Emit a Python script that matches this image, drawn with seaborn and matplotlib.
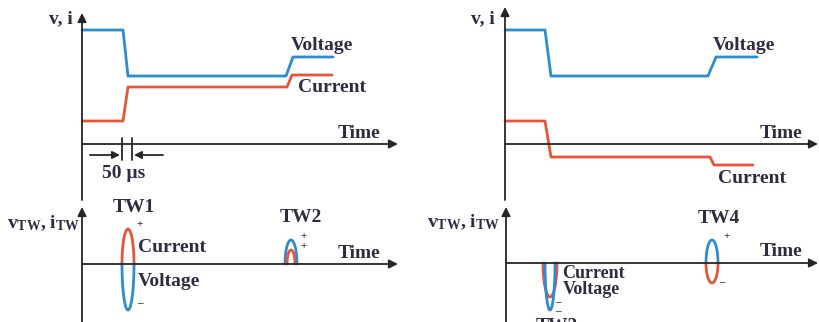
import numpy as np
import pandas as pd
import matplotlib
matplotlib.use("Agg")
import matplotlib.pyplot as plt
import seaborn as sns

sns.set_style("white")
plt.rcParams["font.family"] = ["Liberation Serif", "DejaVu Serif"]
plt.rcParams["font.weight"] = "bold"
plt.rcParams["mathtext.fontset"] = "custom"
plt.rcParams["mathtext.rm"] = "Liberation Serif:bold"
plt.rcParams["mathtext.it"] = "Liberation Serif:italic:bold"

W, H = 820, 322
BLUE = "#2b8dd0"
RED = "#e6553a"
INK = "#2f2c42"
AXIS = "#262626"

# ---- phase quantities (time, level) in arbitrary units ----
# internal fault: voltage dips, current rises
t_v_int = [0, 41, 46, 204, 211, 251]
v_int = [114, 114, 68, 68, 87, 87]
t_i_int = [1, 41, 46, 205, 210, 250]
i_int = [23, 23, 57, 57, 69, 69]

# external fault: voltage dips, current reverses
t_v_ext = [0, 40, 46, 203, 211, 252]
v_ext = [114, 114, 68, 68, 87, 87]
t_i_ext = [0, 40, 46, 205, 209, 248]
i_ext = [23, 23, -13, -13, -21, -21]

# ---- travelling-wave pulses: name, time, half-width, current peak, voltage peak ----
tw_names = ["TW1", "TW2", "TW3", "TW4"]
tw_time = [46, 209, 44, 206]
tw_width_i = [6, 4, 7, 6]
tw_width_v = [6, 6, 5, 6]
tw_peak_i = [35, 14, -34, -20]
tw_peak_v = [-46, 24, -47, 23]


def panel(x0, y0, x1, y1, ox, oy):
    ax = fig.add_axes([x0 / W, 1 - y1 / H, (x1 - x0) / W, (y1 - y0) / H])
    ax.set_xlim(x0 - ox, x1 - ox)
    ax.set_ylim(oy - y1, oy - y0)
    ax.axis("off")
    return ax


def axes_arrows(ax, x_tip, y_tip, y_bottom):
    arrow = dict(arrowstyle="-|>", color=AXIS, lw=1.3, mutation_scale=13,
                 shrinkA=0, shrinkB=0)
    ax.annotate("", xy=(x_tip, 0), xytext=(0, 0), arrowprops=arrow,
                annotation_clip=False)
    ax.annotate("", xy=(0, y_tip), xytext=(0, y_bottom), arrowprops=arrow,
                annotation_clip=False)


def wave(ax, t, y, color):
    df = pd.DataFrame({"t": t, "y": y})
    sns.lineplot(data=df, x="t", y="y", sort=False, estimator=None,
                 color=color, lw=2.0, ax=ax, clip_on=False)


def pulse(ax, t0, hw, peak, color):
    # half-period lobe from t0-hw to t0+hw reaching the given peak
    th = np.linspace(0, np.pi, 60)
    ax.plot(t0 - hw * np.cos(th), peak * np.sin(th), color=color, lw=2.0,
            clip_on=False, solid_capstyle="round")


def txt(ax, x, y, s, size=14, ha="left", va="center"):
    ax.text(x, y, s, fontsize=size, color=INK, ha=ha, va=va, clip_on=False,
            fontweight="bold")


fig = plt.figure(figsize=(W / 100, H / 100), dpi=100)
fig.patch.set_facecolor("white")

# ---------- top left: internal fault ----------
ax = panel(0, 0, 410, 203, 82, 144)
axes_arrows(ax, 316, 131, -56)
wave(ax, t_v_int, v_int, BLUE)
wave(ax, t_i_int, i_int, RED)
txt(ax, 209, 98, "Voltage")
txt(ax, 216, 57, "Current")
txt(ax, 298, 11, "Time", ha="right")
txt(ax, -9, 125, "v, i", ha="right")
# 50 µs marker
for xm in (40, 50):
    ax.plot([xm, xm], [6, -16], color=AXIS, lw=1.3, clip_on=False)
small = dict(arrowstyle="-|>", color=AXIS, lw=1.3, mutation_scale=11,
             shrinkA=0, shrinkB=0)
ax.annotate("", xy=(38, -11), xytext=(8, -11), arrowprops=small)
ax.annotate("", xy=(52, -11), xytext=(81, -11), arrowprops=small)
txt(ax, 42, -29, "50 µs", ha="center")

# ---------- top right: external fault ----------
ax = panel(410, 0, 820, 203, 505, 144)
axes_arrows(ax, 313, 137, -56)
wave(ax, t_v_ext, v_ext, BLUE)
wave(ax, t_i_ext, i_ext, RED)
txt(ax, 208, 98, "Voltage")
txt(ax, 213, -34, "Current")
txt(ax, 297, 11, "Time", ha="right")
txt(ax, -10, 125, "v, i", ha="right")

# ---------- bottom left: travelling waves, internal fault ----------
ax = panel(0, 203, 410, 322, 82, 264)
axes_arrows(ax, 316, 57, -60)
pulse(ax, tw_time[0], tw_width_i[0], tw_peak_i[0], RED)
pulse(ax, tw_time[0], tw_width_v[0], tw_peak_v[0], BLUE)
pulse(ax, tw_time[1], tw_width_v[1], tw_peak_v[1], BLUE)
pulse(ax, tw_time[1], tw_width_i[1], tw_peak_i[1], RED)
txt(ax, 52, 57, tw_names[0], ha="center")
txt(ax, 58, 40, "+", size=8, ha="center")
txt(ax, 56, 17, "Current")
txt(ax, 56, -18, "Voltage")
txt(ax, 58, -40, "–", size=8, ha="center")
txt(ax, 219, 46, tw_names[1], ha="center")
txt(ax, 222, 27, "+", size=8, ha="center")
txt(ax, 222, 17, "+", size=8, ha="center")
txt(ax, 298, 11, "Time", ha="right")
txt(ax, -2, 41, r"v$_{\mathrm{TW}}$, i$_{\mathrm{TW}}$", ha="right")

# ---------- bottom right: travelling waves, external fault ----------
ax = panel(410, 203, 820, 322, 506, 263)
axes_arrows(ax, 312, 56, -60)
pulse(ax, tw_time[2], tw_width_i[2], tw_peak_i[2], RED)
pulse(ax, tw_time[2], tw_width_v[2], tw_peak_v[2], BLUE)
pulse(ax, tw_time[3], tw_width_v[3], tw_peak_v[3], BLUE)
pulse(ax, tw_time[3], tw_width_i[3], tw_peak_i[3], RED)
txt(ax, 56, -11, "Current", size=13)
txt(ax, 57, -27, "Voltage", size=13)
txt(ax, 52, -40, "–", size=8, ha="center")
txt(ax, 52, -49, "–", size=8, ha="center")
txt(ax, 51, -55, tw_names[2], ha="center", va="top")
txt(ax, 213, 45, tw_names[3], ha="center")
txt(ax, 221, 26, "+", size=8, ha="center")
txt(ax, 216, -20, "–", size=8, ha="center")
txt(ax, 296, 11, "Time", ha="right")
txt(ax, -6, 41, r"v$_{\mathrm{TW}}$, i$_{\mathrm{TW}}$", ha="right")

fig.savefig("out.png", dpi=100, facecolor="white")
